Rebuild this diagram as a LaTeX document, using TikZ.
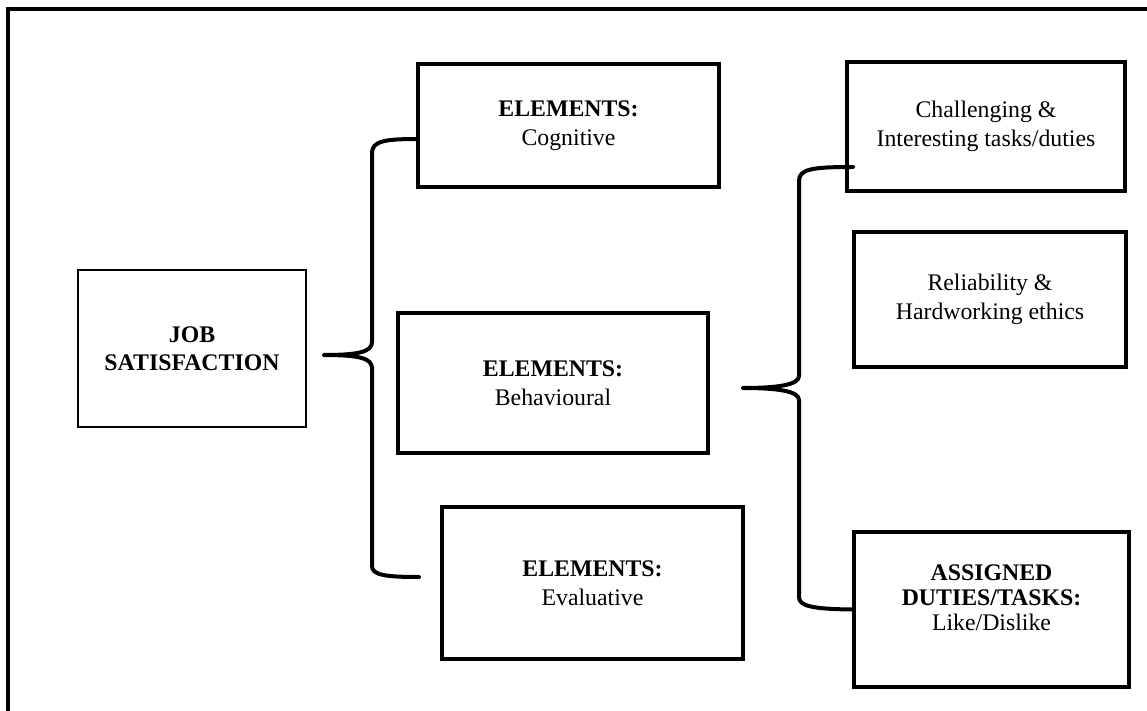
\documentclass[tikz,border=0pt]{standalone}
\usepackage{fontspec}
\setmainfont{Liberation Serif}
\usepackage{tikz}

\begin{document}
\begin{tikzpicture}[x=0.5pt,y=-0.5pt]
        \clip (0,0) rectangle (1147,711);
        % outer frame
        \draw[line width=2pt] (8,9) rectangle (1180,740);
        \node[draw,line width=0.8pt,align=center,inner sep=0pt,minimum width=114pt,minimum height=78.5pt,
              font=\fontsize{11.9}{13.8}\selectfont\bfseries] (job) at (192,348.5) {JOB\\SATISFACTION};
        \begin{scope}[every node/.style={draw,line width=2pt,align=center,inner sep=0pt,font=\fontsize{11.9}{14.6}\selectfont}]
          \node[minimum width=150.5pt,minimum height=61.5pt] (cog) at (568.5,125.5) {\textbf{ELEMENTS:}\\Cognitive};
          \node[minimum width=155pt,minimum height=70pt] (beh) at (553,383) {\textbf{ELEMENTS:}\\Behavioural};
          \node[minimum width=150.5pt,minimum height=76pt] (eva) at (592.5,583) {\textbf{ELEMENTS:}\\Evaluative};
          \node[minimum width=139pt,minimum height=64.5pt] (chal) at (986,126.5) {Challenging \&\\Interesting tasks/duties};
          \node[minimum width=136pt,minimum height=67.5pt] (rel) at (990,299.5) {Reliability \&\\Hardworking ethics};
          \node[minimum width=137.5pt,minimum height=77.5pt] (asg) at (991.5,609.5) {};
        \end{scope}
        \node[align=center,inner sep=0pt,font=\fontsize{11.9}{12.6}\selectfont] (asgtxt) at (991.5,598)
          {\textbf{ASSIGNED}\\\textbf{DUTIES/TASKS:}\\Like/Dislike};
        \begin{scope}[line width=2pt,line cap=round,line join=round]
          \coordinate (ltop) at (418,139);
          \coordinate (ltip) at (324,355);
          \coordinate (lbot) at (419,577);
          \coordinate (rtop) at (853,167);
          \coordinate (rtip) at (743,388);
          \draw (ltop) .. controls (385,139) and (372,141) .. (372,153) -- (372,342)
            .. controls (372,352) and (358,355) .. (ltip)
            .. controls (358,355) and (372,358) .. (372,368) -- (372,566)
            .. controls (372,575) and (385,577) .. (lbot);
          \draw (rtop) .. controls (812,167) and (799,169) .. (799,181) -- (799,376)
            .. controls (799,385) and (777,388) .. (rtip)
            .. controls (777,388) and (799,391) .. (799,400) -- (799,597)
            .. controls (799,606) and (812,609) .. (asg.west);
        \end{scope}
      \end{tikzpicture}
\end{document}
